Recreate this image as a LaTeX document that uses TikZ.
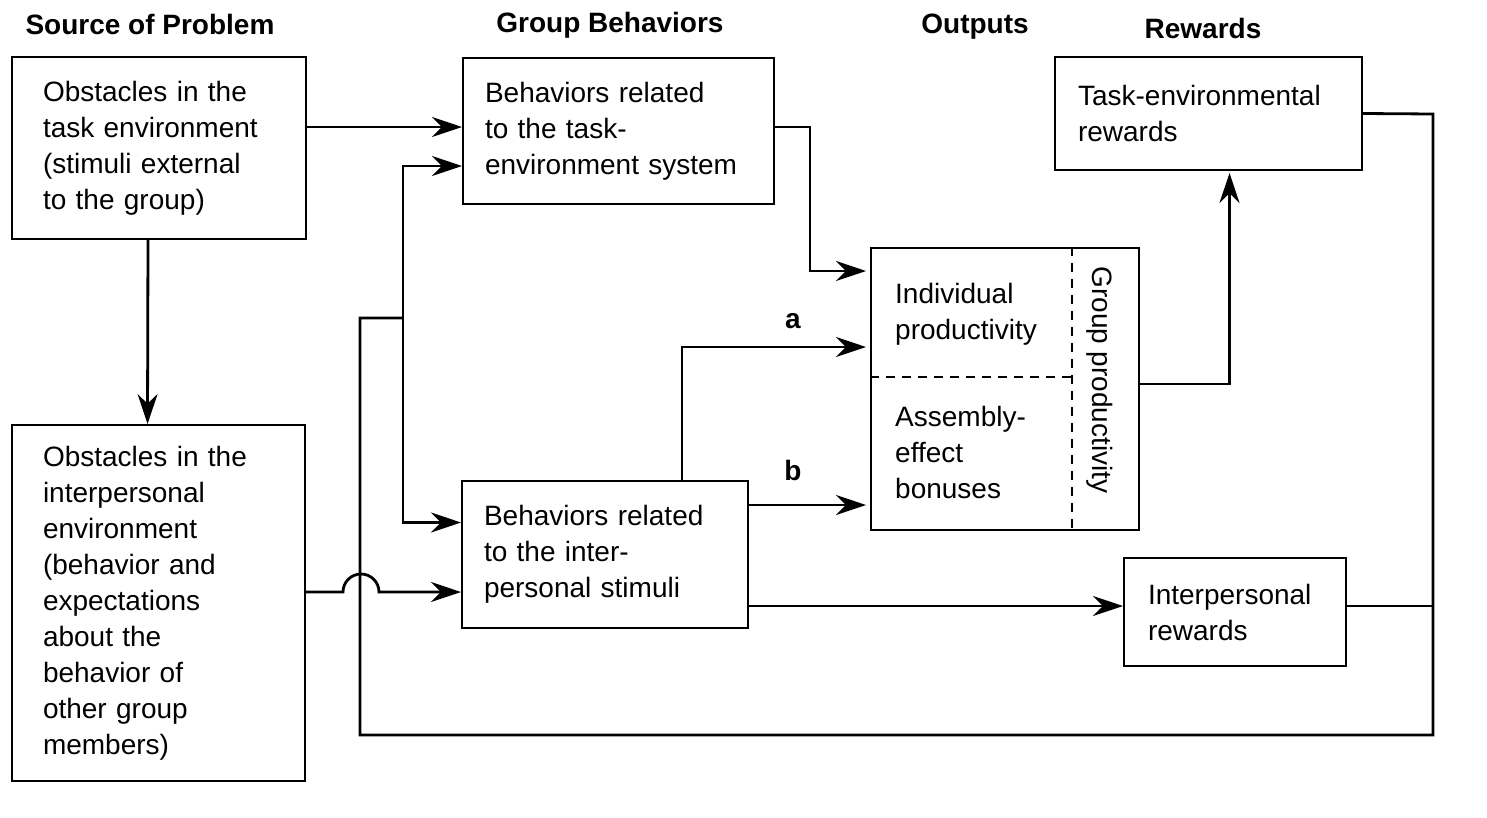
\documentclass[tikz,border=0pt]{standalone}
\usepackage{fontspec}
\setmainfont{Liberation Sans}
\usetikzlibrary{arrows.meta,calc}
\begin{document}
\begin{tikzpicture}[x=1pt,y=-1pt,
  txt/.style={font=\fontsize{28}{36}\selectfont},
  head/.style={font=\fontsize{28}{32}\selectfont\bfseries, inner sep=0pt},
  box/.style={draw, line width=2pt, rectangle, txt, align=left, inner xsep=31pt, inner ysep=0pt},
  plain/.style={txt, align=left, inner sep=0pt, anchor=west},
  conn/.style={line width=2.8pt},
  arr/.style={line width=2.8pt, -{Stealth[length=30pt,width=20pt]}}]
\useasboundingbox (0,0) rectangle (1487,817);

% headers
\node[head] (h1) at (150,24) {Source of Problem};
\node[head] (h2) at (610,25) {Group Behaviors};
\node[head] (h3) at (975,27) {Outputs};
\node[head] (h4) at (1203,28) {Rewards};

% boxes
\node[box, minimum width=294pt, minimum height=182pt, text width=232pt] (srcA) at (159,148)
  {Obstacles in the\\task environment\\(stimuli external\\to the group)};
\node[box, minimum width=293pt, minimum height=356pt, text width=231pt] (srcB) at (158.5,603)
  {Obstacles in the\\interpersonal\\environment\\(behavior and\\expectations\\about the\\behavior of\\other group\\members)};
\node[box, minimum width=311pt, minimum height=146pt, text width=267pt, inner xsep=22pt] (tbeh) at (618.5,131)
  {Behaviors related\\to the task-\\environment system};
\node[box, minimum width=286pt, minimum height=147pt, text width=242pt, inner xsep=22pt] (ibeh) at (605,554.5)
  {Behaviors related\\to the inter-\\personal stimuli};
\node[draw, line width=2pt, minimum width=268pt, minimum height=282pt, inner sep=0pt] (outbox) at (1005,389) {};
\node[box, minimum width=307pt, minimum height=113pt, text width=261pt, inner xsep=23pt] (terw) at (1208.5,113.5)
  {Task-environmental\\rewards};
\node[box, minimum width=222pt, minimum height=108pt, text width=174pt, inner xsep=24pt] (irw) at (1235,612)
  {Interpersonal\\rewards};

% output internals
\node[plain] (indiv) at (895,314) {Individual\\productivity};
\node[plain] (assem) at (895,452) {Assembly-\\effect\\bonuses};
\node[txt, rotate=-90, inner sep=0pt] (grp) at (1100,380) {Group productivity};
\coordinate (dh1) at ($(outbox.north west)+(0,130)$);
\coordinate (dv1) at ($(outbox.north west)+(202,0)$);
\coordinate (dv2) at ($(outbox.south west)+(202,0)$);
\draw[line width=2pt, dash pattern=on 9pt off 7pt] (dh1) -- (dh1 -| dv1);
\draw[line width=2pt, dash pattern=on 9pt off 7pt] (dv1) -- (dv2);

% connectors
\draw[arr] (srcA.east |- 0,127) -- (tbeh.west |- 0,127);
\draw[arr] ($(srcA.south)+(-11,0)$) -- ($(srcB.north)+(-11,0)$);

\coordinate (fbTop) at (1433,114);
\coordinate (fbBot) at (1433,735);
\coordinate (fbL) at (360,735);
\coordinate (fbUp) at (360,318);
\coordinate (split) at (403,318);
\draw[conn, line join=miter] (terw.east) -- (fbTop) -- (fbBot) -- (fbL) -- (fbUp) -- (split);
\draw[conn] (irw.east |- 0,606) -- (fbBot |- 0,606);
\draw[arr] (split) |- ($(tbeh.west)+(0,35)$);
\draw[arr] (split) |- ($(ibeh.west)+(0,-32)$);

\coordinate (jstart) at ($(srcB.east |- 0,592)+(37,0)$);
\draw[arr] (srcB.east |- 0,592) -- (jstart) arc[start angle=180, end angle=0, radius=18pt] -- (ibeh.west |- 0,592);

\draw[arr, line join=miter] (tbeh.east |- 0,127) -- (810,127) |- ($(outbox.north west)+(-4,24)$);
\draw[arr, line join=miter] ($(ibeh.north west)+(221,0)$) |- ($(outbox.north west)+(-4,100)$);
\node[head] (la) at (793,321) {a};
\draw[arr] (ibeh.east |- 0,505) -- ($(outbox.west |- 0,505)+(-4,0)$);
\node[head] (lb) at (793,470) {b};
\draw[arr] (ibeh.east |- 0,606) -- (irw.west |- 0,606);
\draw[arr, line join=miter] (outbox.east |- 0,384) -| ($(terw.south)+(21,2)$);
\end{tikzpicture}
\end{document}
